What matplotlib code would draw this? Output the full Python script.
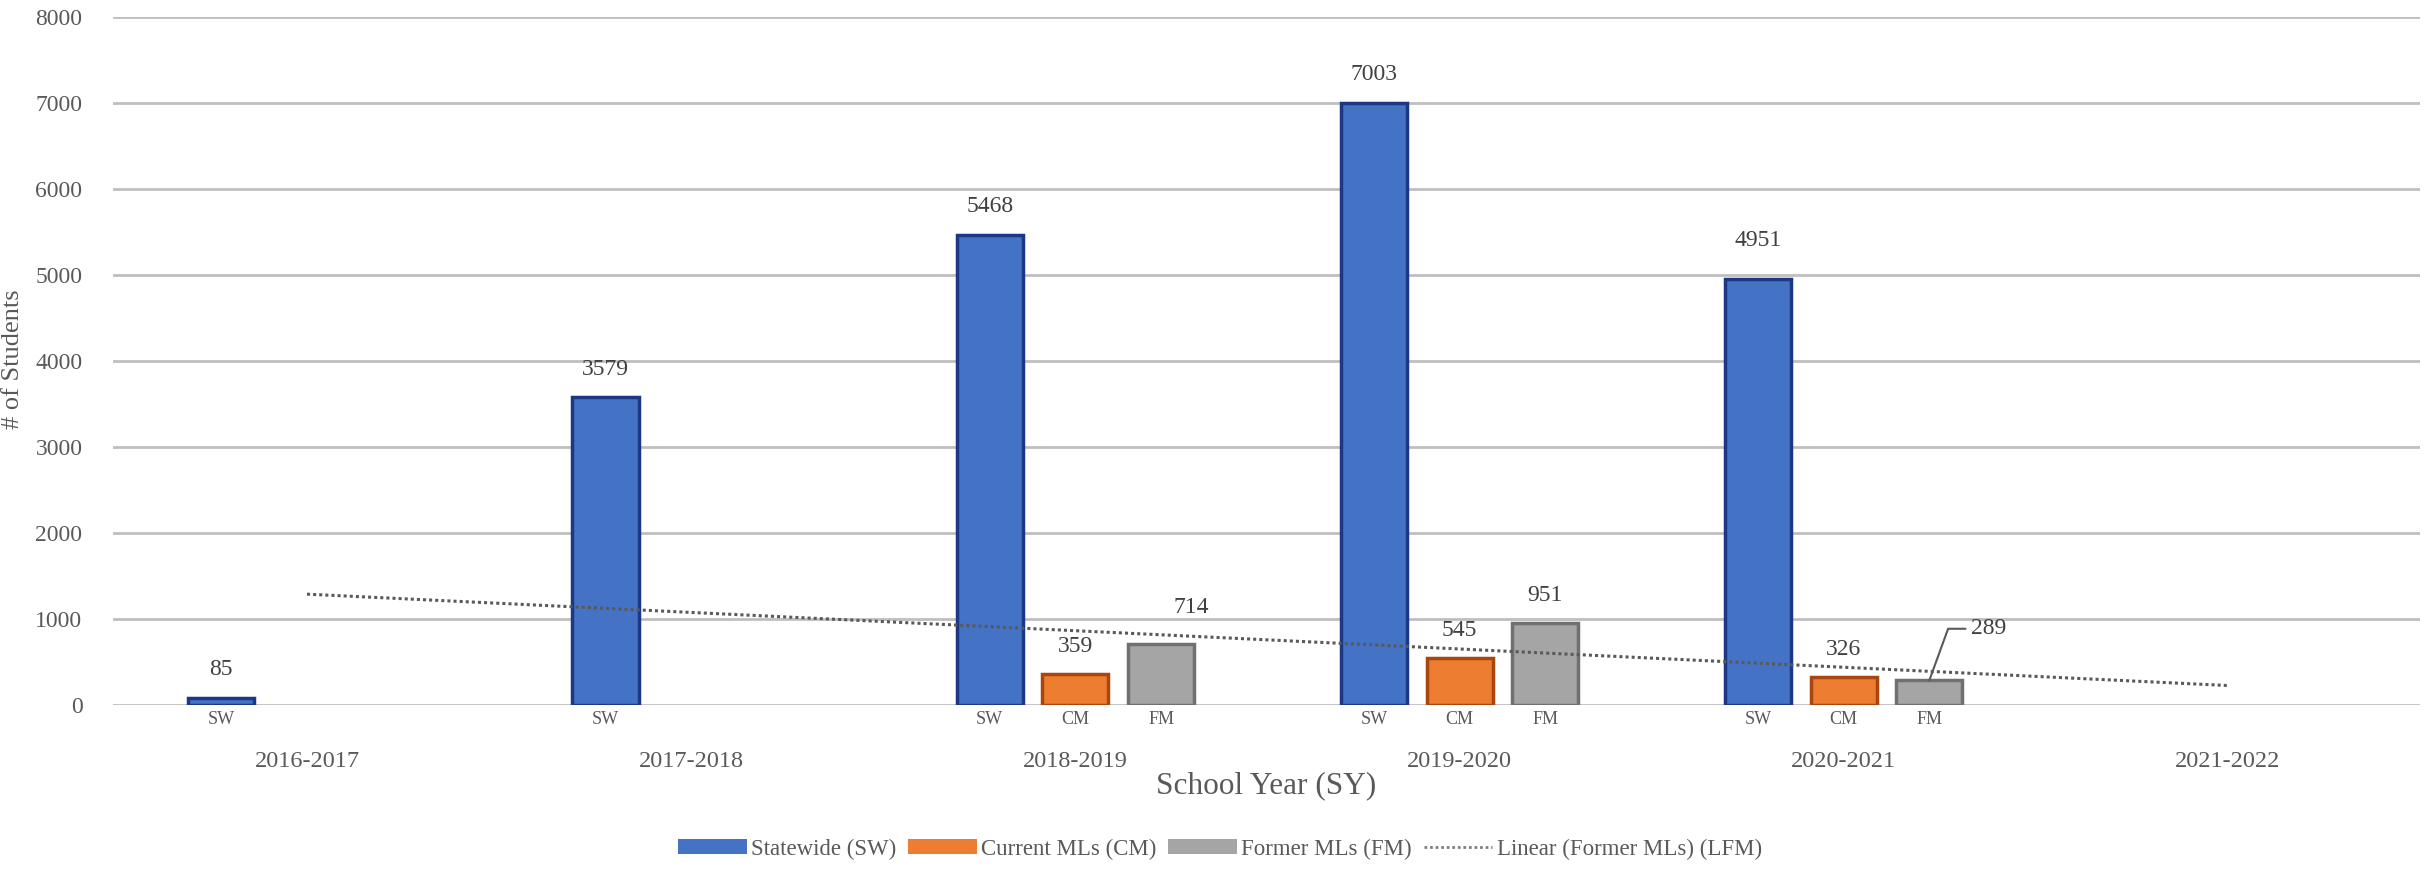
import numpy as np
import matplotlib

matplotlib.use("Agg")
import matplotlib.pyplot as plt
from matplotlib.patches import Patch
from matplotlib.lines import Line2D

plt.rcParams["font.family"] = ["Liberation Serif", "DejaVu Serif"]

# ── data ────────────────────────────────────────────────────────────────────
years = ["2016-2017", "2017-2018", "2018-2019", "2019-2020", "2020-2021", "2021-2022"]
sw_vals = [85, 3579, 5468, 7003, 4951, None]
cm_vals = [None, None, 359, 545, 326, None]
fm_vals = [None, None, 714, 951, 289, None]
y_ticks = [0, 1000, 2000, 3000, 4000, 5000, 6000, 7000, 8000]

C_SW, C_CM, C_FM = "#4472C4", "#ED7D31", "#A5A5A5"
E_SW, E_CM, E_FM = "#1C3783", "#A9460F", "#707070"
TXT = "#404040"
TICK = "#595959"

fig = plt.figure(figsize=(24.25, 8.73), dpi=100)
ax = fig.add_axes([113 / 2425, 1 - 705 / 873, (2420 - 113) / 2425, (705 - 17) / 873])

x = np.arange(len(years))
off = 0.223
bw = 0.172

series = [
    ("SW", sw_vals, C_SW, E_SW, -off),
    ("CM", cm_vals, C_CM, E_CM, 0.0),
    ("FM", fm_vals, C_FM, E_FM, off),
]

# value-label offsets (points) tuned per bar, keyed by (series, year index)
lab_dy = {("SW", 4): 28, ("FM", 2): 26}
lab_dx = {("FM", 2): 22}

for tag, vals, col, ec, dx in series:
    for i, v in enumerate(vals):
        if v is None:
            continue
        ax.bar(x[i] + dx, v, width=bw, color=col, edgecolor=ec, linewidth=2.5, zorder=3)
        ax.annotate(tag, (x[i] + dx, 0), xytext=(0, -4), textcoords="offset points",
                    ha="center", va="top", fontsize=13, color=TICK)
        if tag == "FM" and i == 4:
            # leader-line label
            ax.annotate(str(v), (x[i] + dx, v), xytext=(30, 37), textcoords="offset points",
                        ha="left", va="center", fontsize=17, color=TXT,
                        arrowprops=dict(arrowstyle="-", color="#595959", lw=1.5,
                                        connectionstyle="angle,angleA=0,angleB=70,rad=0",
                                        shrinkA=2, shrinkB=0))
            continue
        ax.annotate(str(v), (x[i] + dx, v),
                    xytext=(lab_dx.get((tag, i), 0), lab_dy.get((tag, i), 20)),
                    textcoords="offset points", ha="center", va="center",
                    fontsize=17, color=TXT)

# linear trendline of Former MLs
fx = np.array([i for i, v in enumerate(fm_vals) if v is not None])
fy = np.array([v for v in fm_vals if v is not None])
k, b = np.polyfit(fx, fy, 1)
tx = np.array([x[0], x[-1]])
ax.plot(tx, k * tx + b, linestyle=(0, (1, 1)), color="#595959", lw=2.2, zorder=4)

ax.set_xlim(-0.505, 5.5)
ax.set_ylim(0, 8000)
ax.set_yticks(y_ticks)
ax.set_xticks(x)
ax.set_xticklabels(years)
ax.tick_params(axis="y", length=0, pad=22, labelsize=17, labelcolor=TICK)
ax.tick_params(axis="x", length=0, pad=33, labelsize=17.5, labelcolor=TICK)
ax.yaxis.grid(True, color="#BFBFBF", lw=2)
ax.set_axisbelow(True)
for s in ax.spines.values():
    s.set_visible(False)

fig.text(1266 / 2425, 1 - 786 / 873, "School Year (SY)", ha="center", va="center",
         fontsize=22.5, color=TICK)
fig.text(13 / 2425, 1 - 359 / 873, "# of Students", ha="center", va="center",
         rotation=90, fontsize=19, color=TICK)

handles = [
    Patch(facecolor=C_SW, label="Statewide (SW)"),
    Patch(facecolor=C_CM, label="Current MLs (CM)"),
    Patch(facecolor=C_FM, label="Former MLs (FM)"),
    Line2D([], [], linestyle=(0, (1, 1)), color="#808080", lw=2, label="Linear (Former MLs) (LFM)"),
]
leg = fig.legend(handles=handles, loc="center", bbox_to_anchor=(1220 / 2425, 1 - 849 / 873),
                 ncol=4, frameon=False, fontsize=16.5, handlelength=3.0, handleheight=0.6,
                 handletextpad=0.2, columnspacing=0.5)
for t in leg.get_texts():
    t.set_color(TICK)

fig.savefig("out.png", dpi=100, facecolor="white")
